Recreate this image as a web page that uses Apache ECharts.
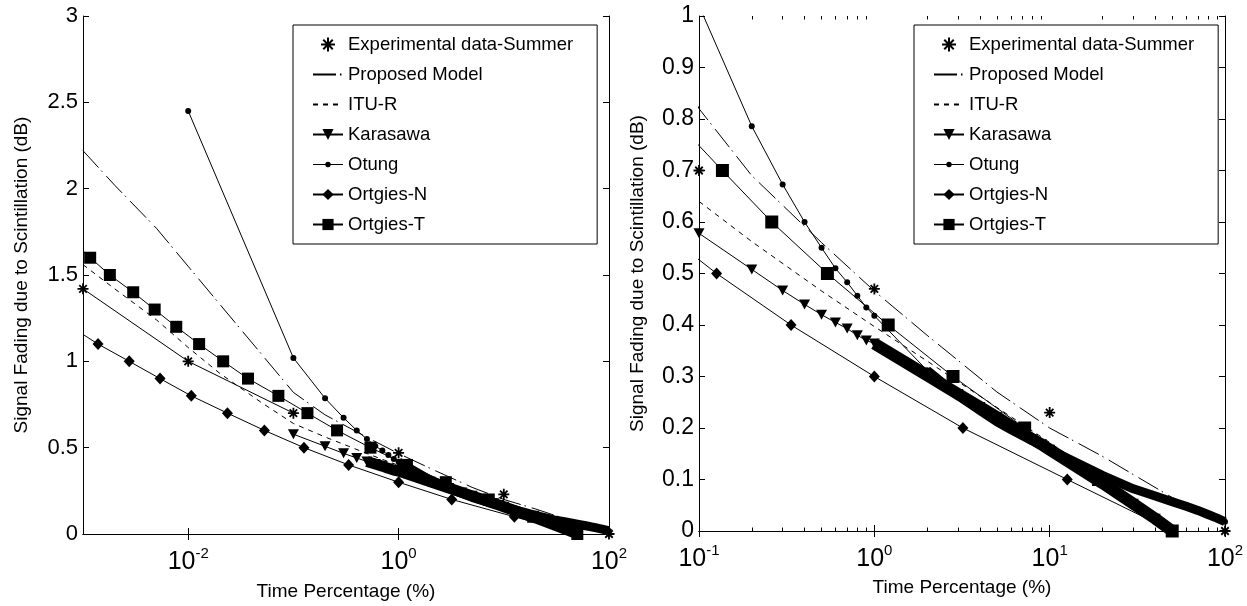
<!DOCTYPE html>
<html><head><meta charset="utf-8">
<script src="https://cdn.jsdelivr.net/npm/echarts@6/dist/echarts.min.js"></script>
<style>html,body{margin:0;padding:0;background:#fff}#c{width:1247px;height:606px}</style>
</head><body><div id="c"></div>
<script>
// ---------- data (x = time percentage %, y = fade dB) ----------
const legendNames = ['Experimental data-Summer','Proposed Model','ITU-R','Karasawa','Otung','Ortgies-N','Ortgies-T'];

const expX = [0.001, 0.01, 0.1, 1, 10, 100];
const expY = [1.42, 1.0, 0.70, 0.47, 0.23, 0.0];

// thin solid line through the low-percentage experimental points (left panel)
const fitX = [0.001, 0.01, 0.1];
const fitY = [1.42, 1.0, 0.70];

const propX = [0.001,0.002,0.005,0.01,0.02,0.05,0.1,0.2,0.5,1,2,5,10,20,50,100];
const propY = [2.22,2.02,1.77,1.55,1.33,1.04,0.82,0.69,0.56,0.466,0.38,0.27,0.20,0.145,0.065,0.02];

const ituX = [0.001,0.002,0.005,0.01,0.02,0.05,0.1,0.2,0.5,1,2,5,10,20,50];
const ituY = [1.56,1.42,1.24,1.08,0.93,0.76,0.64,0.562,0.466,0.397,0.33,0.24,0.172,0.10,0.0];

const karX = [0.1,0.2,0.3,0.4,0.5,0.6,0.7,0.8,0.9,1,2,3,4,5,6,7,8,9,10,20,30,40,50];
const karY = [0.578,0.508,0.467,0.44,0.42,0.405,0.393,0.38,0.37,0.364,0.302,0.266,0.241,0.221,0.204,0.190,0.178,0.168,0.158,0.093,0.053,0.024,0.0];

const otuX = [0.01,0.1,0.2,0.3,0.4,0.5,0.6,0.7,0.8,0.9,1,2,3,4,5,6,7,8,9,10,20,30,40,50,60,70,80,90,100];
const otuY = [2.45,1.02,0.786,0.673,0.60,0.55,0.51,0.483,0.457,0.434,0.418,0.312,0.263,0.234,0.212,0.197,0.185,0.175,0.166,0.158,0.108,0.082,0.068,0.057,0.048,0.040,0.032,0.025,0.018];

const ornX = [0.001,0.00139,0.00275,0.0054,0.0107,0.0236,0.053,0.126,0.335,1.0,3.2,12.6,50];
const ornY = [1.156,1.1,1.0,0.9,0.8,0.7,0.6,0.5,0.4,0.3,0.2,0.1,0.0];

const ortX = [0.001,0.00117,0.0018,0.003,0.0048,0.0077,0.0127,0.0215,0.037,0.072,0.136,0.26,0.54,1.2,2.81,7.2,19,50];
const ortY = [1.64,1.6,1.5,1.4,1.3,1.2,1.1,1.0,0.9,0.8,0.7,0.6,0.5,0.4,0.3,0.2,0.1,0.0];

const leftTicks = [0.01, 1];
const leftLabels = [0.01, 1, 100];
const rightTicks = [0.1, 1, 10, 100];
const rightMinor = [0.2,0.3,0.4,0.5,0.6,0.7,0.8,0.9,2,3,4,5,6,7,8,9,20,30,40,50,60,70,80,90];

// ---------- helpers ----------
const F = 'Liberation Sans, Arial, Helvetica, sans-serif';
const K = '#000';
const CLEAR = 'rgba(0,0,0,0)';
function pts(xs, ys, unmarkedFirst) {
  return xs.map((x, i) => (unmarkedFirst && i === 0) ? {value: [x, ys[i]], symbol: 'none'} : [x, ys[i]]);
}
function from(xs, ys, xmin) {
  const out = [];
  xs.forEach((x, i) => { if (x >= xmin) out.push([x, ys[i]]); });
  return out;
}
const STAR = 'path://M5 0L5 10M0 5L10 5M1.6 1.6L8.4 8.4M1.6 8.4L8.4 1.6';
// legend icon for Otung: line with a small dot (box 30 x 14)
const OTUNG_ICON = 'path://M0 0h0.01v0.01h-0.01z M29.99 13.99h0.01v0.01h-0.01z M0 6.5h30v1h-30z M15 4.3a2.7 2.7 0 1 1 -0.01 0z';

function panelSeries(xi, yi, opts) {
  const base = {xAxisIndex: xi, yAxisIndex: yi, animation: false};
  const thin = {color: K, width: 1};
  return [
    Object.assign({}, base, {name: 'fit', type: 'line', data: pts(opts.fit ? fitX : [], opts.fit ? fitY : []), symbol: 'none', lineStyle: thin}),
    Object.assign({}, base, {name: 'Proposed Model', type: 'line', data: pts(propX, propY), symbol: 'none',
      itemStyle: {color: CLEAR}, lineStyle: {color: K, width: 1, type: [23, 4, 1.5, 6]}}),
    Object.assign({}, base, {name: 'ITU-R', type: 'line', data: pts(ituX, ituY), symbol: 'none',
      itemStyle: {color: CLEAR}, lineStyle: {color: K, width: 1, type: [5, 5]}}),
    Object.assign({}, base, {name: 'Ortgies-N', type: 'line', data: pts(ornX, ornY, true), symbol: 'diamond', symbolSize: [11, 12],
      lineStyle: thin, itemStyle: {color: K}}),
    Object.assign({}, base, {name: 'kband', type: 'line', data: from(karX, karY, opts.kband), symbol: 'none',
      lineStyle: {color: K, width: opts.kw}}),
    Object.assign({}, base, {name: 'oband', type: 'line', data: from(otuX, otuY, opts.oband), symbol: 'none',
      lineStyle: {color: K, width: opts.ow}}),
    Object.assign({}, base, {name: 'Karasawa', type: 'line', data: pts(karX, karY), symbol: 'triangle', symbolRotate: 180, symbolSize: [11, 10],
      lineStyle: thin, itemStyle: {color: K}}),
    Object.assign({}, base, {name: 'Otung', type: 'line', data: pts(otuX, otuY), symbol: 'circle', symbolSize: 6,
      lineStyle: thin, itemStyle: {color: K}}),
    Object.assign({}, base, {name: 'Ortgies-T', type: 'line', data: pts(ortX, ortY, true), symbol: 'rect', symbolSize: opts.sq,
      lineStyle: thin, itemStyle: {color: K}}),
    Object.assign({}, base, {name: 'Experimental data-Summer', type: 'scatter', data: pts(expX, expY), symbol: STAR, symbolSize: 11,
      itemStyle: {color: CLEAR, borderColor: K, borderWidth: 1.8, opacity: 1}})
  ];
}

function supLabel(v) { return '{b|10}{s|' + Math.round(Math.log10(v)) + '}'; }
const rich = {
  b: {fontSize: 25, fontFamily: F, color: K, verticalAlign: 'bottom'},
  s: {fontSize: 15, fontFamily: F, color: K, verticalAlign: 'bottom', padding: [0, 0, 14, 0]}
};
function xAxisMain(grid, min, max, ticks, labels, pos, withName, nameGap) {
  return {
    type: 'log', logBase: 10, gridIndex: grid, min: min, max: max, position: pos,
    axisLine: {show: true, lineStyle: {color: K, width: 1}},
    axisTick: {show: true, inside: true, length: 6, customValues: ticks, lineStyle: {color: K}},
    axisLabel: pos === 'bottom' ? {show: true, customValues: labels, margin: 12, formatter: supLabel, rich: rich} : {show: false},
    splitLine: {show: false}, minorTick: {show: false},
    name: withName ? 'Time Percentage (%)' : '', nameLocation: 'middle', nameGap: nameGap,
    nameTextStyle: {fontFamily: F, fontSize: 19, color: K}
  };
}
function xAxisMinor(grid, min, max, ticks, pos) {
  return {
    type: 'log', logBase: 10, gridIndex: grid, min: min, max: max, position: pos,
    axisLine: {show: false},
    axisTick: {show: true, inside: true, length: 3.5, customValues: ticks, lineStyle: {color: K}},
    axisLabel: {show: false}, splitLine: {show: false}
  };
}
function yAxis(grid, max, interval, pos, fs, nameGap) {
  return {
    type: 'value', gridIndex: grid, min: 0, max: max, interval: interval, position: pos,
    axisLine: {show: true, lineStyle: {color: K, width: 1}},
    axisTick: {show: true, inside: true, length: 6, lineStyle: {color: K}},
    axisLabel: pos === 'left' ? {show: true, margin: 5, fontFamily: F, fontSize: fs, color: K} : {show: false},
    splitLine: {show: false},
    name: pos === 'left' ? 'Signal Fading due to Scintillation (dB)' : '', nameLocation: 'middle', nameGap: nameGap,
    nameTextStyle: {fontFamily: F, fontSize: 19, color: K}
  };
}
function legend(left, top) {
  return {
    left: left, top: top, orient: 'vertical', selectedMode: false,
    data: legendNames.map(n => n === 'Otung' ? {name: n, icon: OTUNG_ICON} : n),
    itemWidth: 30, itemHeight: 14, itemGap: 11, padding: [10, 24, 10, 19],
    borderColor: K, borderWidth: 1, backgroundColor: '#fff',
    textStyle: {fontFamily: F, fontSize: 18.5, color: K, lineHeight: 14}
  };
}

const option = {
  animation: false,
  backgroundColor: '#fff',
  grid: [
    {left: 83, top: 16, width: 526, height: 519},
    {left: 699, top: 16, width: 526, height: 515}
  ],
  xAxis: [
    xAxisMain(0, 0.001, 100, leftTicks, leftLabels, 'bottom', true, 48),
    xAxisMain(0, 0.001, 100, leftTicks, leftLabels, 'top', false, 0),
    xAxisMain(1, 0.1, 100, rightTicks, rightTicks, 'bottom', true, 47),
    xAxisMain(1, 0.1, 100, rightTicks, rightTicks, 'top', false, 0),
    xAxisMinor(1, 0.1, 100, rightMinor, 'bottom'),
    xAxisMinor(1, 0.1, 100, rightMinor, 'top')
  ],
  yAxis: [
    yAxis(0, 3, 0.5, 'left', 22, 52),
    yAxis(0, 3, 0.5, 'right', 22, 0),
    yAxis(1, 1, 0.1, 'left', 23, 52),
    yAxis(1, 1, 0.1, 'right', 23, 0)
  ],
  legend: [legend(293, 25), legend(914, 25)],
  series: [].concat(
    panelSeries(0, 0, {fit: true, kband: 0.5, oband: 1, kw: 11, ow: 9, sq: 12}),
    panelSeries(2, 2, {fit: false, kband: 1, oband: 2, kw: 12, ow: 9, sq: 13})
  )
};
const chart = echarts.init(document.getElementById('c'), null, {renderer: 'canvas'});
chart.setOption(option);
</script></body></html>
